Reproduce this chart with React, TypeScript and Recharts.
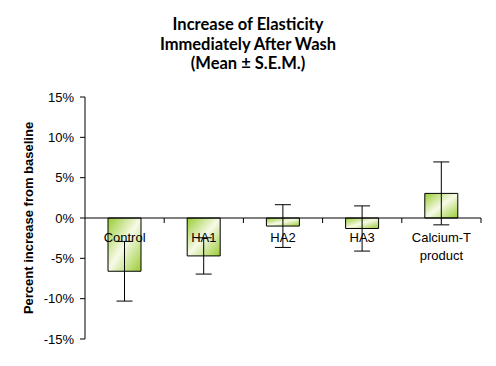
import { Bar, BarChart, ErrorBar, ReferenceLine, Text, XAxis, YAxis } from "recharts";

const categories = ["Control", "HA1", "HA2", "HA3", "Calcium-T product"];
const means = [-6.6, -4.7, -1.0, -1.3, 3.05];
const sems = [3.7, 2.25, 2.65, 2.8, 3.9];
const yTicks = [-15, -10, -5, 0, 5, 10, 15];

const data = categories.map((name, i) => ({ name, mean: means[i], sem: sems[i] }));

const W = 496;
const H = 366;
const MARGIN = { top: 97, right: 15, bottom: 0, left: 0 };
const X_AXIS_H = 27;
const Y_AXIS_W = 85;
const PLOT_W = W - MARGIN.left - MARGIN.right - Y_AXIS_W;
const PLOT_H = H - MARGIN.top - MARGIN.bottom - X_AXIS_H;
const ZERO_Y = MARGIN.top + PLOT_H / 2;
const BAND = PLOT_W / categories.length;

const FONT = "Arial, 'Liberation Sans', sans-serif";

function CatTick(props: any) {
  const { x, payload } = props;
  return (
    <g>
      <line x1={x + BAND / 2} x2={x + BAND / 2} y1={ZERO_Y} y2={ZERO_Y + 5} stroke="#000" />
      <Text
        x={x}
        y={ZERO_Y + 15}
        width={BAND}
        textAnchor="middle"
        verticalAnchor="start"
        lineHeight={18}
        fontSize={13}
        fontFamily={FONT}
        fill="#000"
      >
        {payload.value}
      </Text>
    </g>
  );
}

export default function App() {
  return (
    <div style={{ position: "absolute", left: 0, top: 0, width: W, height: H, background: "#fff" }}>
      <div
        style={{
          position: "absolute",
          left: 0,
          top: 15,
          width: W,
          textAlign: "center",
          fontFamily: "Lato, 'DejaVu Sans', sans-serif",
          fontWeight: 700,
          fontSize: 16.5,
          lineHeight: "19.5px",
          color: "#000",
        }}
      >
        Increase of Elasticity
        <br />
        Immediately After Wash
        <br />
        (Mean ± S.E.M.)
      </div>
      <BarChart width={W} height={H} data={data} margin={MARGIN} barSize={33}>
        <defs>
          <linearGradient id="greenDiag" x1="0" y1="0" x2="1" y2="1">
            <stop offset="0%" stopColor="#99cc33" />
            <stop offset="50%" stopColor="#f7fae8" />
            <stop offset="100%" stopColor="#99cc33" />
          </linearGradient>
        </defs>
        <XAxis dataKey="name" axisLine={false} tickLine={false} tick={<CatTick />} interval={0} height={X_AXIS_H} />
        <YAxis
          width={Y_AXIS_W}
          domain={[-15, 15]}
          ticks={yTicks}
          tickFormatter={(v: number) => `${v}%`}
          tickSize={5}
          tickMargin={6}
          stroke="#000"
          tick={{ fill: "#000", fontSize: 13, fontFamily: FONT }}
          label={{
            value: "Percent increase from baseline",
            angle: -90,
            position: "insideLeft",
            offset: 28,
            style: { textAnchor: "middle", fontWeight: 700, fontSize: 13, fontFamily: FONT, fill: "#000" },
          }}
        />
        <ReferenceLine y={0} stroke="#000" />
        <Bar dataKey="mean" fill="url(#greenDiag)" stroke="#000" strokeWidth={1} isAnimationActive={false}>
          <ErrorBar dataKey="sem" width={8} stroke="#000" strokeWidth={1} />
        </Bar>
      </BarChart>
    </div>
  );
}
